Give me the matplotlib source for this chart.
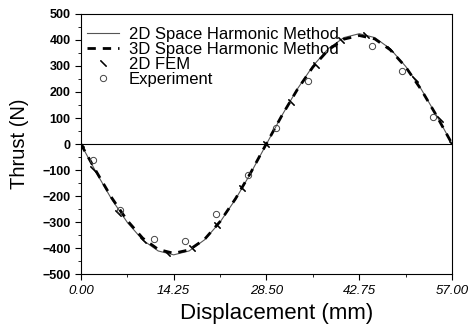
import numpy as np
import matplotlib.pyplot as plt
from matplotlib.ticker import MultipleLocator

plt.rcParams['font.family'] = ['Liberation Sans', 'DejaVu Sans']

# displacement (mm) for the computed curves
x_curve = [0, 2.375, 4.75, 7.125, 9.5, 11.875, 14.25, 16.625, 19.0, 21.375, 23.75, 26.125,
           28.5, 30.875, 33.25, 35.625, 38.0, 40.375, 42.75, 45.125, 47.5, 49.875, 52.25, 54.625, 57.0]
shm2d = [0, -110, -213, -301, -369, -411, -426, -411, -368, -300, -212, -110,
         0, 110, 212, 300, 367, 409, 424, 409, 366, 298, 211, 109, 0]
shm3d = [0, -106, -207, -294, -362, -405, -420, -407, -366, -298, -210, -108,
         2, 110, 210, 296, 362, 403, 417, 404, 362, 296, 209, 108, 0]

# 2D FEM
x_fem = [0.0, 1.9, 5.7, 9.5, 13.3, 17.1, 20.9, 24.7, 28.5, 32.3, 36.1, 39.9, 43.7, 47.5, 51.3, 55.1, 57.0]
fem = [0, -95, -265, -370, -420, -400, -310, -170, 0, 160, 305, 400, 420, 365, 250, 95, 0]

# experiment
x_exp = [1.8, 6.0, 11.2, 16.0, 20.7, 25.6, 30.0, 34.9, 44.7, 49.3, 54.1]
exp = [-62, -252, -366, -374, -268, -120, 62, 244, 378, 280, 103]

fig = plt.figure(figsize=(4.7, 3.24), dpi=100)
ax = fig.add_axes([0.172, 0.154, 0.79, 0.803])

ax.axhline(0, color='black', lw=0.8)
ax.plot(x_curve, shm2d, color='#555555', lw=0.8, label='2D Space Harmonic Method')
ax.plot(x_curve, shm3d, color='black', lw=2.0, ls=(0, (3, 2.5)), label='3D Space Harmonic Method')
ax.plot(x_fem, fem, ls='none', marker=(2, 2, 45), ms=6, mec='black', mew=0.8, color='black', label='2D FEM')
ax.plot(x_exp, exp, ls='none', marker='o', ms=4.5, mfc='none', mec='#444444', mew=0.7, label='Experiment')

ax.set_xlim(0, 57)
ax.set_ylim(-500, 500)
ax.set_xticks([0, 14.25, 28.5, 42.75, 57])
ax.set_xticklabels(['0.00', '14.25', '28.50', '42.75', '57.00'], fontstyle='italic', fontsize=9.5)
ax.set_yticks(range(-500, 501, 100))
for lab in ax.get_yticklabels():
    lab.set_fontweight('bold')
    lab.set_fontsize(9)
ax.yaxis.set_minor_locator(MultipleLocator(50))
ax.xaxis.set_minor_locator(MultipleLocator(7.125))
ax.tick_params(which='major', direction='out', length=4, width=0.8)
ax.tick_params(which='minor', direction='out', length=2, width=0.6)

ax.set_xlabel('Displacement (mm)', fontsize=16)
ax.set_ylabel('Thrust (N)', fontsize=14.5)
ax.xaxis.set_label_coords(0.526, -0.11)
ax.yaxis.set_label_coords(-0.14, 0.5)

ax.legend(loc='upper left', bbox_to_anchor=(0.004, 0.97), frameon=False, fontsize=12,
          handlelength=1.9, labelspacing=0.0, borderpad=0.3, handletextpad=0.6, borderaxespad=0)

fig.savefig('out.png', dpi=100)
